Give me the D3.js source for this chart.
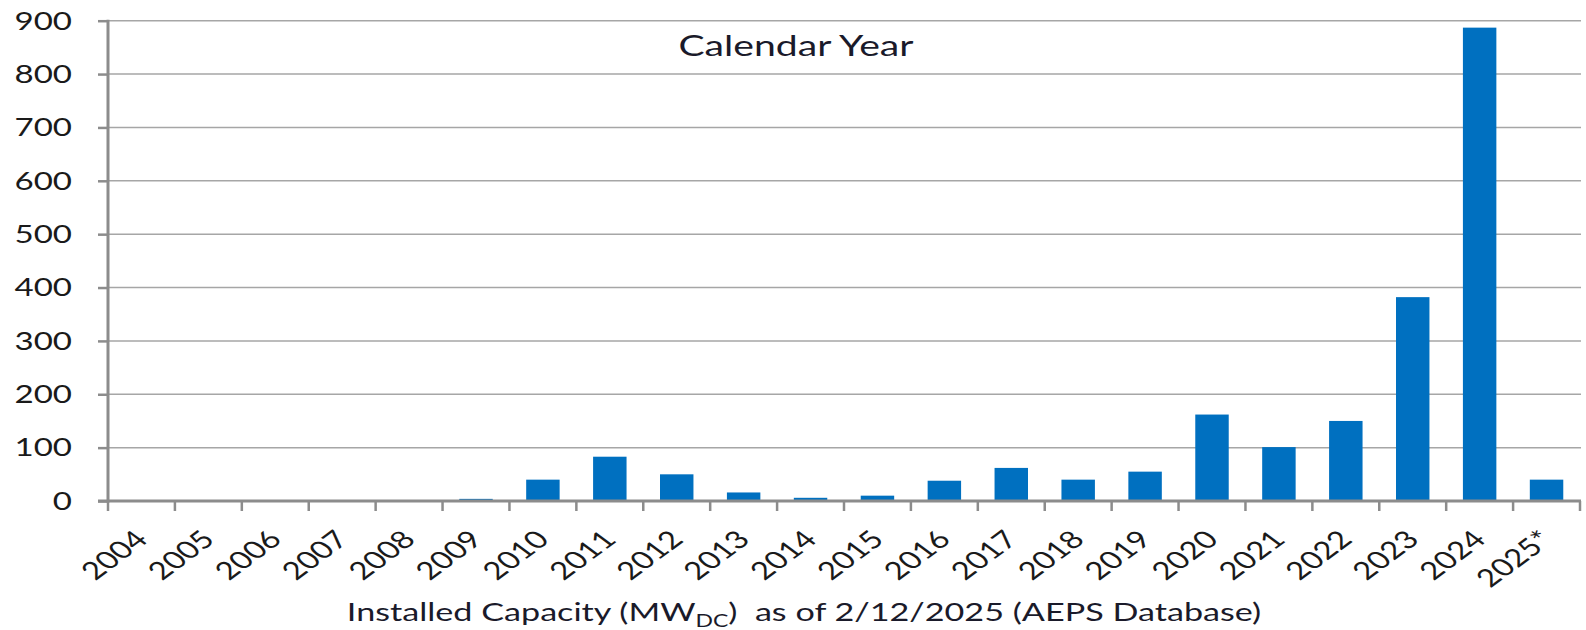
<!DOCTYPE html>
<html><head><meta charset="utf-8">
<script src="https://cdn.jsdelivr.net/npm/d3@7"></script>
<style>body{margin:0;background:#fff}</style>
</head><body><svg id="c" width="1586" height="630"></svg>
<script>
const categories = ["2004","2005","2006","2007","2008","2009","2010","2011","2012","2013","2014","2015","2016","2017","2018","2019","2020","2021","2022","2023","2024","2025*"];
const capacity = [0,0,0,0,0,4,40,83,50,16,6,10,38,62,40,55,162,101,150,382,887,40];
const yTicks = [0,100,200,300,400,500,600,700,800,900];
const chartTitle = "Calendar Year";
const axisTitleParts = ["Installed Capacity (MW", "DC", ")  as of 2/12/2025 (AEPS Database)"];

const S = 1.35; // horizontal text stretch
const FONT = "Lato, 'Open Sans', sans-serif";
const svg = d3.select("#c");
const L = 108, R = 1580, T = 20.7, B = 501;

const x = d3.scaleBand().domain(categories).range([L, R]).paddingInner(0.5).paddingOuter(0.25);
const y = d3.scaleLinear().domain([0, 900]).range([B, T]);
const step = x.step();

// gridlines
svg.append("g").selectAll("line").data(yTicks.filter(d => d > 0)).join("line")
  .attr("x1", L).attr("x2", R + 1).attr("y1", d => y(d)).attr("y2", d => y(d))
  .attr("stroke", "#a6a6a6").attr("stroke-width", 1.5);

// bars
svg.append("g").selectAll("rect").data(categories.map((c, i) => ({c, v: capacity[i]}))).join("rect")
  .attr("x", d => x(d.c)).attr("width", x.bandwidth())
  .attr("y", d => y(d.v)).attr("height", d => B - y(d.v))
  .attr("fill", "#0070c0");

// y axis
const ya = svg.append("g").attr("transform", `translate(${L},0)`)
  .call(d3.axisLeft(y).tickValues(yTicks).tickSize(10).tickFormat(""));
ya.select(".domain").remove();
ya.selectAll(".tick line").attr("stroke", "#8c8c8c").attr("stroke-width", 2.5);
svg.append("line").attr("x1", L).attr("x2", L).attr("y1", T - 1).attr("y2", B + 1.5)
  .attr("stroke", "#8c8c8c").attr("stroke-width", 3);

svg.append("g").selectAll("text").data(yTicks).join("text")
  .attr("transform", d => `translate(72,${y(d)}) scale(${S},1)`)
  .attr("dy", "0.36em").attr("text-anchor", "end")
  .style("font-family", FONT).style("font-size", "24.5px").attr("fill", "#1a1a1a")
  .text(d => d);

// x axis
const boundaries = categories.map(c => x(c) - step * 0.25).concat([R]);
svg.append("g").selectAll("line").data(boundaries).join("line")
  .attr("x1", d => d).attr("x2", d => d).attr("y1", B).attr("y2", B + 10)
  .attr("stroke", "#8c8c8c").attr("stroke-width", 2.5);
svg.append("line").attr("x1", L - 10).attr("x2", R + 1).attr("y1", B).attr("y2", B)
  .attr("stroke", "#8c8c8c").attr("stroke-width", 3);

svg.append("g").selectAll("text").data(categories).join("text")
  .attr("transform", d => `translate(${x(d) + x.bandwidth() / 2 + 8},541) scale(${S},1) rotate(-45)`)
  .attr("text-anchor", "end")
  .style("font-family", FONT).style("font-size", "24.5px").attr("fill", "#1a1a1a")
  .text(d => d);

// chart title
svg.append("text").attr("transform", `translate(796,56) scale(${S},1)`)
  .attr("text-anchor", "middle").style("font-family", FONT).style("font-size", "29px")
  .attr("fill", "#1a1a2a").text(chartTitle);

// axis title
const at = svg.append("text").attr("transform", `translate(804,621) scale(${S},1)`)
  .attr("text-anchor", "middle").style("font-family", FONT).style("font-size", "25.3px")
  .attr("fill", "#1a1a2a").attr("xml:space", "preserve");
at.append("tspan").text(axisTitleParts[0]);
at.append("tspan").attr("dy", 6).style("font-size", "17px").text(axisTitleParts[1]);
at.append("tspan").attr("dy", -6).text(axisTitleParts[2]);
</script></body></html>
